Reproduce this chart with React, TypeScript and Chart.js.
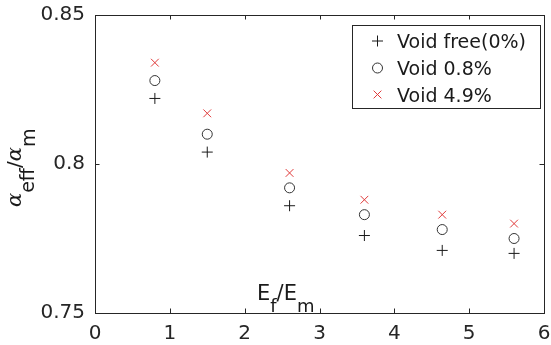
import React, { useEffect, useRef } from "react";
import { Chart, registerables } from "chart.js";

Chart.register(...registerables);

const ratioEfEm = [0.8, 1.5, 2.6, 3.6, 4.64, 5.6];
const voidFree = [0.822, 0.804, 0.786, 0.776, 0.771, 0.770];
const void08 = [0.828, 0.810, 0.792, 0.783, 0.778, 0.775];
const void49 = [0.834, 0.817, 0.797, 0.788, 0.783, 0.780];
const seriesLabels = ["Void free(0%)", "Void 0.8%", "Void 4.9%"];
const xTicks = [0, 1, 2, 3, 4, 5, 6];
const yTicks = [0.75, 0.8, 0.85];

const AXIS = "#262626";
const RED = "#e03a3a";
const FONT = "'DejaVu Sans', sans-serif";

function drawMarker(ctx: CanvasRenderingContext2D, style: string, x: number, y: number, r: number, color: string) {
  ctx.save();
  ctx.strokeStyle = color;
  ctx.lineWidth = 1;
  ctx.beginPath();
  if (style === "cross") {
    ctx.moveTo(x - r, y); ctx.lineTo(x + r, y);
    ctx.moveTo(x, y - r); ctx.lineTo(x, y + r);
  } else if (style === "circle") {
    ctx.arc(x, y, r, 0, Math.PI * 2);
  } else {
    const d = r * Math.SQRT1_2;
    ctx.moveTo(x - d, y - d); ctx.lineTo(x + d, y + d);
    ctx.moveTo(x - d, y + d); ctx.lineTo(x + d, y - d);
  }
  ctx.stroke();
  ctx.restore();
}

const decorPlugin = {
  id: "decor",
  afterDraw(chart: any) {
    const ctx: CanvasRenderingContext2D = chart.ctx;
    const { left, right, top, bottom } = chart.chartArea;
    const xs = chart.scales.x;
    const ys = chart.scales.y;
    ctx.save();
    // box
    ctx.strokeStyle = AXIS;
    ctx.lineWidth = 1;
    ctx.strokeRect(Math.round(left) + 0.5, Math.round(top) + 0.5, Math.round(right - left), Math.round(bottom - top));
    // inward ticks
    const tl = 4.5;
    ctx.beginPath();
    xTicks.forEach((v) => {
      const px = Math.round(xs.getPixelForValue(v)) + 0.5;
      ctx.moveTo(px, bottom); ctx.lineTo(px, bottom - tl);
      ctx.moveTo(px, top); ctx.lineTo(px, top + tl);
    });
    yTicks.forEach((v) => {
      const py = Math.round(ys.getPixelForValue(v)) + 0.5;
      ctx.moveTo(left, py); ctx.lineTo(left + tl, py);
      ctx.moveTo(right, py); ctx.lineTo(right - tl, py);
    });
    ctx.stroke();

    // x title inside plot: E_f/E_m
    ctx.fillStyle = "#1a1a1a";
    ctx.textBaseline = "alphabetic";
    ctx.textAlign = "left";
    let cx = 257;
    const by = 300;
    const mainF = `21px ${FONT}`;
    const subF = `18px ${FONT}`;
    const pieces: [string, string, number][] = [
      ["E", mainF, 0], ["f", subF, 12], ["/", mainF, 0], ["E", mainF, 0], ["m", subF, 12],
    ];
    pieces.forEach(([t, f, off]) => {
      ctx.font = f;
      ctx.fillText(t, cx, by + off);
      cx += ctx.measureText(t).width;
    });

    // y title rotated: α_eff/α_m
    ctx.save();
    ctx.translate(21, 207);
    ctx.rotate(-Math.PI / 2);
    const alphaF = `italic 21px 'DejaVu Serif', serif`;
    const ySub = `19px ${FONT}`;
    const ypieces: [string, string, number][] = [
      ["\u03B1", alphaF, 0], ["eff", ySub, 13], ["/", `20px ${FONT}`, 0], ["\u03B1", alphaF, 0], ["m", ySub, 14],
    ];
    let u = 0;
    ypieces.forEach(([t, f, off]) => {
      ctx.font = f;
      ctx.fillText(t, u, off);
      u += ctx.measureText(t).width;
    });
    ctx.restore();

    // legend
    const lx = 352.5, ly = 25.5, lw = 188, lh = 83;
    ctx.fillStyle = "#ffffff";
    ctx.fillRect(lx, ly, lw, lh);
    ctx.strokeStyle = AXIS;
    ctx.strokeRect(lx, ly, lw, lh);
    const styles = ["cross", "circle", "crossRot"];
    const colors = ["#1a1a1a", "#333333", RED];
    const radii = [5.5, 5, 5.5];
    const rows = [41, 68, 94.5];
    ctx.font = `19px ${FONT}`;
    ctx.textBaseline = "alphabetic";
    seriesLabels.forEach((lab, i) => {
      drawMarker(ctx, styles[i], 377.5, rows[i], radii[i], colors[i]);
      ctx.fillStyle = "#1a1a1a";
      ctx.fillText(lab, 397, rows[i] + 7);
    });
    ctx.restore();
  },
};

export default function App() {
  const ref = useRef<HTMLCanvasElement | null>(null);
  useEffect(() => {
    if (!ref.current) return;
    const mk = (ys: number[]) => ratioEfEm.map((x, i) => ({ x, y: ys[i] }));
    const chart = new Chart(ref.current, {
      type: "scatter",
      data: {
        datasets: [
          { label: seriesLabels[0], data: mk(voidFree), pointStyle: "cross", pointRadius: 5.5, borderColor: "#1a1a1a", borderWidth: 1, backgroundColor: "transparent", showLine: false },
          { label: seriesLabels[1], data: mk(void08), pointStyle: "circle", pointRadius: 5, borderColor: "#333333", borderWidth: 1, backgroundColor: "transparent", showLine: false },
          { label: seriesLabels[2], data: mk(void49), pointStyle: "crossRot", pointRadius: 5.5, borderColor: RED, borderWidth: 1, backgroundColor: "transparent", showLine: false },
        ],
      },
      options: {
        responsive: false,
        animation: false,
        devicePixelRatio: 1,
        layout: { padding: { left: 0, right: 7, top: 15, bottom: 0 } },
        plugins: { legend: { display: false }, tooltip: { enabled: false }, title: { display: false } },
        scales: {
          x: {
            type: "linear",
            min: 0,
            max: 6,
            afterBuildTicks: (s: any) => { s.ticks = xTicks.map((v) => ({ value: v })); },
            afterFit: (s: any) => { s.height = 32; s.paddingLeft = 0; s.paddingRight = 0; },
            ticks: { font: { family: FONT, size: 20 }, color: AXIS, padding: 9, maxRotation: 0, autoSkip: false },
            grid: { drawOnChartArea: false, drawTicks: false },
            border: { display: false },
          },
          y: {
            type: "linear",
            min: 0.75,
            max: 0.85,
            afterBuildTicks: (s: any) => { s.ticks = yTicks.map((v) => ({ value: v })); },
            afterFit: (s: any) => { s.width = 95; s.paddingTop = 0; s.paddingBottom = 0; },
            ticks: { font: { family: FONT, size: 20 }, color: AXIS, padding: 10, autoSkip: false, callback: (v: any) => String(Number(v)) },
            grid: { drawOnChartArea: false, drawTicks: false },
            border: { display: false },
          },
        },
      },
      plugins: [decorPlugin],
    } as any);
    return () => chart.destroy();
  }, []);
  return (
    <div style={{ position: "absolute", left: 0, top: 0, width: 551, height: 345, background: "#fff" }}>
      <canvas ref={ref} width={551} height={345} style={{ display: "block" }} />
    </div>
  );
}
